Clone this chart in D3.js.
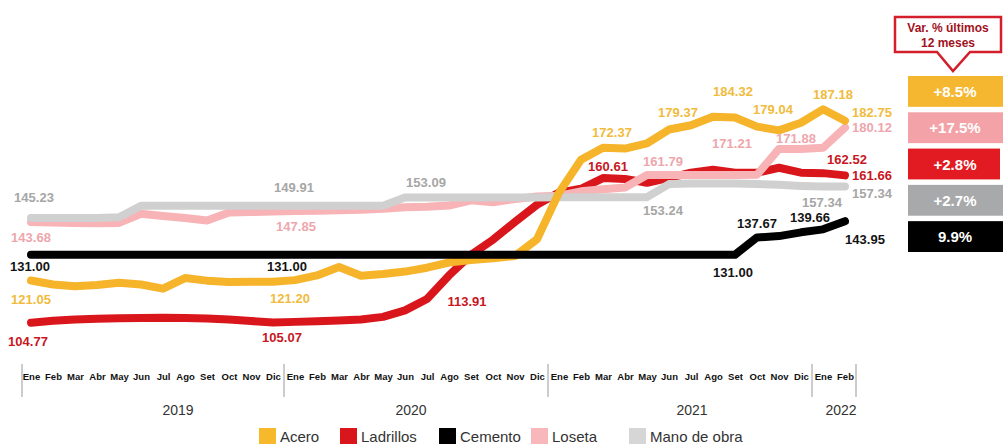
<!DOCTYPE html>
<html>
<head>
<meta charset="utf-8">
<script src="https://cdn.jsdelivr.net/npm/d3@7"></script>
<style>
  body { margin: 0; background: #fff; }
  svg { font-family: "Liberation Sans", Arial, sans-serif; }
</style>
</head>
<body>
<div id="vis"></div>
<script>
// Frame
const FRAME_WIDTH = 1006;
const FRAME_HEIGHT = 445;

// Months (Ene 2019 .. Feb 2022)
const MONTH_NAMES = ["Ene","Feb","Mar","Abr","May","Jun","Jul","Ago","Set","Oct","Nov","Dic"];
const YEARS = ["2019","2020","2021","2022"];
const YEAR_MONTHS = [12, 12, 12, 2];

// Series values, one per month
const ACERO = [121.05,119.5,118.8,119.3,120.2,119.5,117.9,122.0,121.0,120.5,120.6,120.6,
               121.20,123.0,126.3,122.9,123.6,124.5,126.0,128.0,129.0,129.6,130.5,137.0,
               155.0,167.7,172.37,172.0,174.0,179.37,181.0,184.32,184.0,180.5,179.04,182.0,
               187.18,182.75];
const LADRILLOS = [104.77,105.5,106.0,106.3,106.5,106.6,106.7,106.6,106.4,106.0,105.4,104.8,
                   105.07,105.3,105.6,106.0,107.0,109.5,113.91,123.0,131.0,136.8,143.7,150.3,
                   155.0,156.5,160.61,160.3,158.8,160.7,162.7,163.8,162.7,162.7,164.6,162.7,
                   162.52,161.66];
const CEMENTO = [131,131,131,131,131,131,131,131,131,131,131,131,
                 131,131,131,131,131,131,131,131,131,131,131,131,
                 131,131,131,131,131,131,131,131,131,137.67,138.2,139.66,
                 140.8,143.95];
const LOSETA = [143.68,143.5,143.3,143.2,143.3,146.8,146.0,145.2,144.2,147.3,147.5,147.7,
                147.85,148.0,148.2,148.4,148.8,149.3,149.5,150.0,152.0,151.3,152.5,153.5,
                153.8,155.5,156.3,157.0,161.79,161.8,161.8,161.8,161.8,161.9,171.88,171.88,
                172.3,180.12];
const MANO_OBRA = [145.23,145.23,145.23,145.23,145.5,149.91,149.91,149.91,149.91,149.91,149.91,149.91,
                   149.91,149.91,149.91,149.91,149.91,153.09,153.09,153.1,153.1,153.1,153.15,153.15,
                   153.2,153.2,153.2,153.24,153.24,158.3,158.5,158.5,158.5,158.3,158.0,157.6,
                   157.34,157.34];

// Value labels: series, month index, value
const LABELS = [
  ["Mano de obra",0,145.23],["Loseta",0,143.68],["Cemento",0,131.00],["Acero",0,121.05],["Ladrillos",0,104.77],
  ["Mano de obra",12,149.91],["Loseta",12,147.85],["Cemento",12,131.00],["Acero",12,121.20],["Ladrillos",12,105.07],
  ["Mano de obra",18,153.09],["Ladrillos",18,113.91],
  ["Acero",26,172.37],["Ladrillos",26,160.61],["Acero",29,179.37],["Loseta",28,161.79],
  ["Acero",32,184.32],["Acero",34,179.04],["Loseta",32,171.21],["Loseta",35,171.88],
  ["Mano de obra",28,153.24],["Mano de obra",36,157.34],["Cemento",33,137.67],["Cemento",35,139.66],
  ["Cemento",32,131.00],["Acero",36,187.18],["Acero",37,182.75],["Loseta",37,180.12],
  ["Ladrillos",37,162.52],["Ladrillos",37,161.66],["Mano de obra",37,157.34],["Cemento",37,143.95]
];
// label offsets from their point [dx, dy]
const LABEL_OFFSETS = [
  [3,-20],[0,16],[-1,12],[0,19],[-3,19],
  [-1,-18],[1,15],[-8,12],[-5,18],[-13,16],
  [-1,-15],[40,3],
  [9,-15],[5,-12],[9,-17],[16,-14],
  [-2,-26],[-6,-21],[-3,-32],[-5,-10],
  [16,13],[-1,16],[0,-14],[9,-15],
  [-2,18],[10,-15],[27,-8],[27,0],
  [2,-16],[27,0],[27,7],[20,18]
];

// Last 12 months variation boxes
const VAR_SERIES = ["Acero","Loseta","Ladrillos","Mano de obra","Cemento"];
const VAR_TEXT = ["+8.5%","+17.5%","+2.8%","+2.7%","9.9%"];

const SERIES = ["Acero","Ladrillos","Cemento","Loseta","Mano de obra"];
const VALUES = {"Acero": ACERO, "Ladrillos": LADRILLOS, "Cemento": CEMENTO, "Loseta": LOSETA, "Mano de obra": MANO_OBRA};
const LINE_COLORS = {"Acero": "#f6b42a", "Ladrillos": "#d9161c", "Cemento": "#000000", "Loseta": "#f7b3b6", "Mano de obra": "#d0d0d0"};
const LEGEND_COLORS = {"Acero": "#f7b92c", "Ladrillos": "#d9161c", "Cemento": "#000000", "Loseta": "#f8b8bb", "Mano de obra": "#d6d6d6"};
const LABEL_COLORS = {"Acero": "#f1bb3c", "Ladrillos": "#c8171f", "Cemento": "#141414", "Loseta": "#eea6ac", "Mano de obra": "#a6a6a6"};
const BOX_COLORS = {"Acero": "#f5b730", "Loseta": "#f3a3a7", "Ladrillos": "#e21b22", "Mano de obra": "#a8a9ab", "Cemento": "#000000"};

// month keys
const MONTHS = [];
YEARS.forEach((yr, k) => {
  for (let m = 0; m < YEAR_MONTHS[k]; m++) MONTHS.push({key: yr + "-" + m, name: MONTH_NAMES[m], year: yr});
});

const FRAME = d3.select("#vis")
  .append("svg")
    .attr("width", FRAME_WIDTH)
    .attr("height", FRAME_HEIGHT);

const X_SCALE = d3.scalePoint()
  .domain(MONTHS.map(d => d.key))
  .range([31, 845]);

const Y_SCALE = d3.scaleLinear()
  .domain([100, 190])
  .range([335, 102]);

const STEP = X_SCALE.step();

// lines (drawing order)
const line = d3.line()
  .x((d, i) => X_SCALE(MONTHS[i].key))
  .y(d => Y_SCALE(d));

["Ladrillos","Loseta","Mano de obra","Acero","Cemento"].forEach(s => {
  FRAME.append("path")
    .datum(VALUES[s])
    .attr("d", line)
    .attr("fill", "none")
    .attr("stroke", LINE_COLORS[s])
    .attr("stroke-width", 8)
    .attr("stroke-linejoin", "round")
    .attr("stroke-linecap", "round");
});

// value labels
FRAME.selectAll(".vlabel")
  .data(LABELS)
  .enter()
  .append("text")
    .attr("class", "vlabel")
    .attr("x", (d, i) => X_SCALE(MONTHS[d[1]].key) + LABEL_OFFSETS[i][0])
    .attr("y", (d, i) => Y_SCALE(VALUES[d[0]][d[1]]) + LABEL_OFFSETS[i][1])
    .attr("text-anchor", "middle")
    .attr("dominant-baseline", "central")
    .attr("font-size", "13px")
    .attr("font-weight", "bold")
    .attr("fill", d => LABEL_COLORS[d[0]])
    .text(d => d3.format(".2f")(d[2]));

// x axis: month names
const AXIS = FRAME.append("g")
  .attr("transform", "translate(0,377)")
  .call(d3.axisBottom(X_SCALE).tickSize(0).tickFormat(k => MONTHS.find(d => d.key === k).name));
AXIS.select(".domain").remove();
AXIS.selectAll("line").remove();
AXIS.selectAll("text")
  .attr("y", 0)
  .attr("dy", "0.35em")
  .attr("font-size", "9.5px")
  .attr("font-weight", "bold")
  .attr("fill", "#111")
  .attr("font-family", "Liberation Sans, Arial, sans-serif");

// year separators and labels
const YEAR_SHIFT = [26, -5, 12, 7];
let start = 0;
YEARS.forEach((yr, k) => {
  const first = X_SCALE(MONTHS[start].key) - STEP / 2;
  const last = X_SCALE(MONTHS[start + YEAR_MONTHS[k] - 1].key) + STEP / 2;
  if (k === 0) {
    FRAME.append("line").attr("x1", first + 2).attr("x2", first + 2)
      .attr("y1", 364).attr("y2", 397).attr("stroke", "#999").attr("stroke-width", 1);
  }
  FRAME.append("line").attr("x1", last).attr("x2", last)
    .attr("y1", 364).attr("y2", 397).attr("stroke", "#999").attr("stroke-width", 1);
  FRAME.append("text")
    .attr("x", (first + last) / 2 + YEAR_SHIFT[k])
    .attr("y", 410)
    .attr("text-anchor", "middle")
    .attr("dominant-baseline", "central")
    .attr("font-size", "14px")
    .attr("fill", "#333")
    .text(yr);
  start += YEAR_MONTHS[k];
});

// legend
const LEGEND_X = [259, 340, 439, 531, 629];
const LEGEND = FRAME.selectAll(".legend")
  .data(SERIES)
  .enter()
  .append("g")
    .attr("class", "legend")
    .attr("transform", (d, i) => "translate(" + LEGEND_X[i] + ",428)");
LEGEND.append("rect")
  .attr("width", 17).attr("height", 16)
  .attr("fill", d => LEGEND_COLORS[d]);
LEGEND.append("text")
  .attr("x", 21).attr("y", 8)
  .attr("dominant-baseline", "central")
  .attr("font-size", "15px")
  .attr("fill", "#333")
  .text(d => d);

// variation boxes
const BOX_Y = d3.scaleBand()
  .domain(VAR_SERIES)
  .range([76, 252])
  .paddingInner(0.15);
FRAME.selectAll(".vbox")
  .data(VAR_SERIES)
  .enter()
  .append("rect")
    .attr("class", "vbox")
    .attr("x", 908)
    .attr("y", d => BOX_Y(d))
    .attr("width", d => d === "Ladrillos" ? 92 : 95)
    .attr("height", BOX_Y.bandwidth())
    .attr("fill", d => BOX_COLORS[d]);
FRAME.selectAll(".vtext")
  .data(VAR_SERIES)
  .enter()
  .append("text")
    .attr("x", 955)
    .attr("y", d => BOX_Y(d) + BOX_Y.bandwidth() / 2)
    .attr("text-anchor", "middle")
    .attr("dominant-baseline", "central")
    .attr("font-size", "15px")
    .attr("font-weight", "bold")
    .attr("fill", "#fff")
    .text((d, i) => VAR_TEXT[i]);

// callout
FRAME.append("path")
  .attr("d", "M895,17 H1001 V52 H970 L953,71 L937,52 H895 Z")
  .attr("fill", "#fff")
  .attr("stroke", "#d21f2b")
  .attr("stroke-width", 2.5)
  .attr("stroke-linejoin", "miter");
FRAME.append("text")
  .attr("x", 948).attr("y", 28)
  .attr("text-anchor", "middle").attr("dominant-baseline", "central")
  .attr("font-size", "12px").attr("font-weight", "bold").attr("fill", "#a1121d")
  .text("Var. % últimos");
FRAME.append("text")
  .attr("x", 948).attr("y", 43)
  .attr("text-anchor", "middle").attr("dominant-baseline", "central")
  .attr("font-size", "12px").attr("font-weight", "bold").attr("fill", "#a1121d")
  .text("12 meses");
</script>
</body>
</html>
